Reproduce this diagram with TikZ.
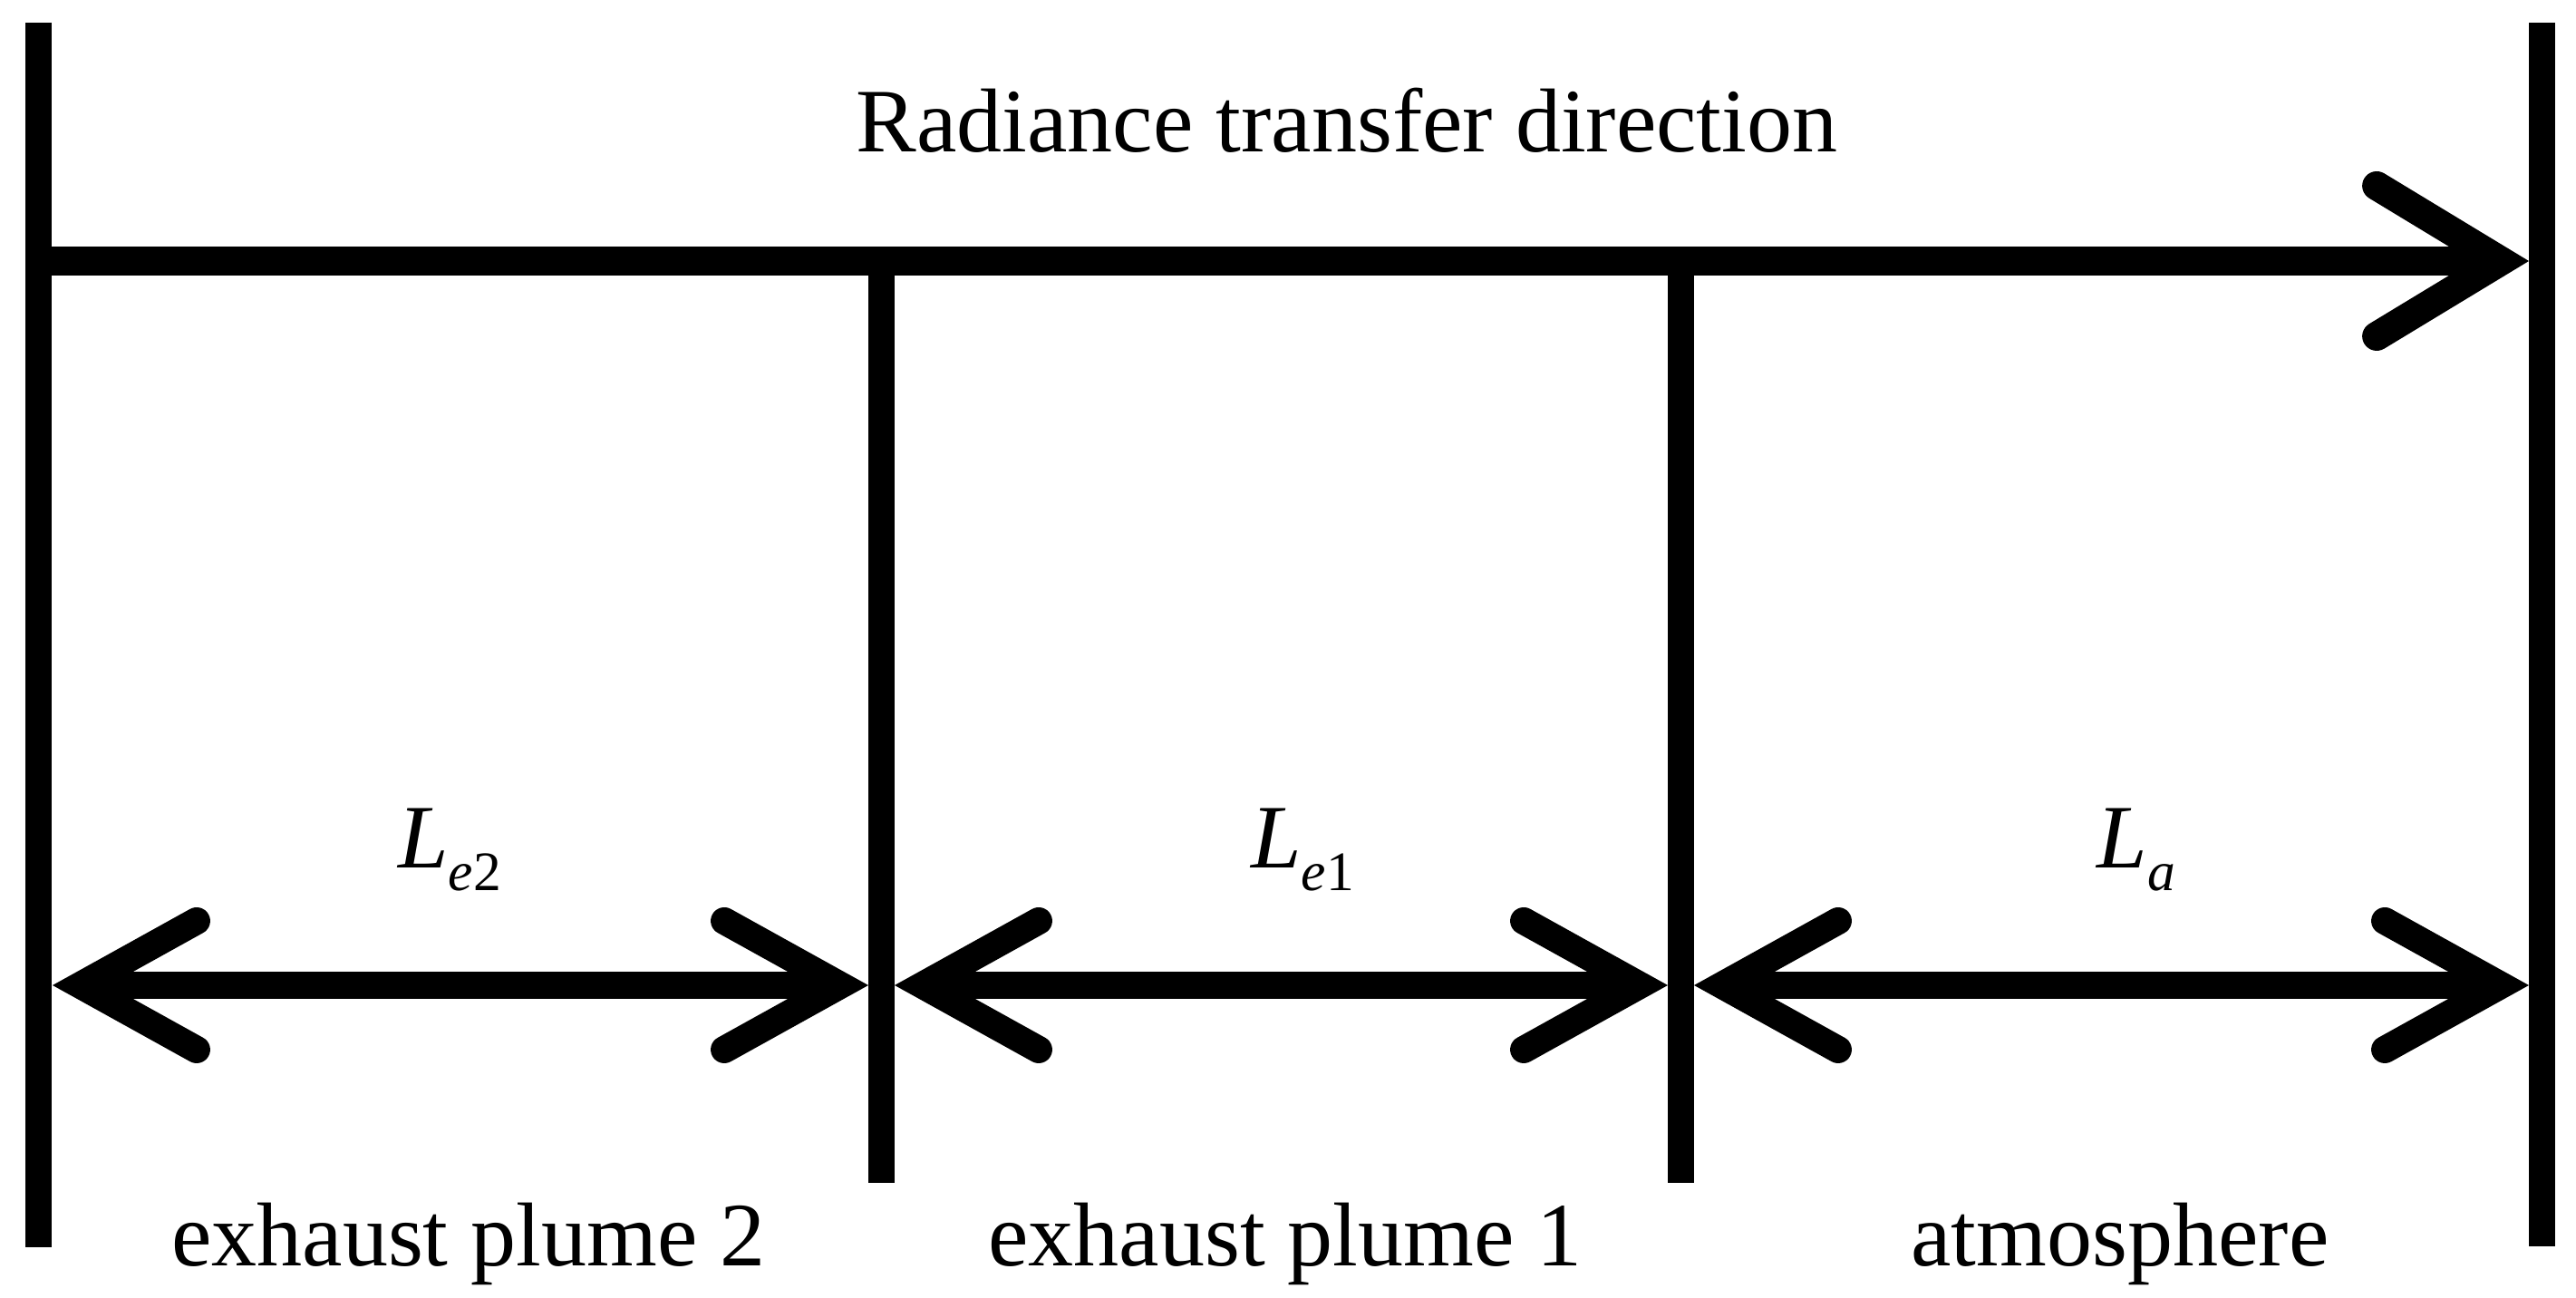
\documentclass[tikz,border=0pt]{standalone}
\usepackage{fontspec}
\setmainfont{Liberation Serif}
\usetikzlibrary{arrows.meta}

\newcommand{\seglen}[1]{\textit{L}\raisebox{-0.25cm}{\fontsize{17.5}{18}\selectfont #1}}

\begin{document}
\begin{tikzpicture}[
  every node/.style={inner sep=0pt, font=\fontsize{28.45}{34}\selectfont},
  boundary/.style={line width=0.29cm},
  flow/.style={line width=0.32cm, -{Straight Barb[length=1.37cm, width=1.66cm, line cap=round]}},
  span/.style={line width=0.30cm, {Straight Barb[length=1.28cm, width=1.42cm, line cap=round]}-{Straight Barb[length=1.28cm, width=1.42cm, line cap=round]}}
]
\useasboundingbox (0,0) rectangle (28.42,14.32);

% Boundaries
\draw[boundary] (0.43,14.07) -- (0.43,0.56);
\draw[boundary] (28.04,14.07) -- (28.04,0.57);
\draw[boundary] (9.72,11.44) -- (9.72,1.27);
\draw[boundary] (18.54,11.44) -- (18.54,1.27);

% Radiance transfer
\coordinate (start) at (0.43,11.44);
\coordinate (stop) at (27.90,11.44);
\draw[flow] (start) -- (stop);
\node[anchor=base] (title) at (14.86,12.64) {Radiance transfer direction};

% Path lengths
\coordinate (p0) at (0.58,3.45);
\coordinate (p1) at (9.58,3.45);
\coordinate (p2) at (9.87,3.45);
\coordinate (p3) at (18.40,3.45);
\coordinate (p4) at (18.69,3.45);
\coordinate (p5) at (27.90,3.45);
\draw[span] (p0) -- (p1);
\draw[span] (p2) -- (p3);
\draw[span] (p4) -- (p5);

\node[anchor=base] (le2) at (4.96,4.74) {\seglen{\textit{e}2}};
\node[anchor=base] (le1) at (14.37,4.74) {\seglen{\textit{e}1}};
\node[anchor=base] (la) at (23.57,4.74) {\seglen{\textit{a}}};

% Regions
\node[anchor=base] (plume2) at (5.17,0.35) {exhaust plume 2};
\node[anchor=base] (plume1) at (14.18,0.35) {exhaust plume 1};
\node[anchor=base] (atmos) at (23.39,0.35) {atmosphere};

\end{tikzpicture}
\end{document}
